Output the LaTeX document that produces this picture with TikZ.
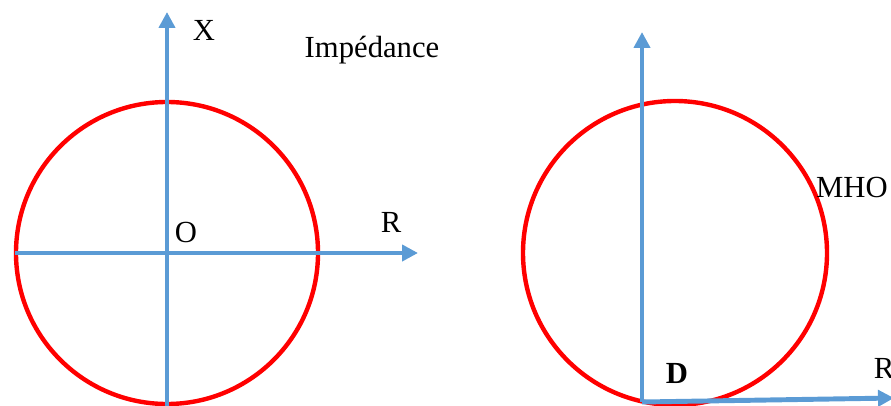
\documentclass[tikz,border=0pt]{standalone}
\usepackage{fontspec}
\setmainfont{Liberation Serif}
\usetikzlibrary{arrows.meta}
\definecolor{axisblue}{RGB}{91,155,213}

\begin{document}
\begin{tikzpicture}[x=0.75pt,y=-0.75pt,font=\fontsize{23}{23}\selectfont,
  axis/.style={axisblue,line width=3.7pt,-{Triangle[length=12pt,width=12pt]}},
  ring/.style={red,line width=3.3pt}]
\useasboundingbox (0,0) rectangle (891,406);
% impedance plane
\coordinate (O) at (167,253);
\coordinate (rstart) at (15,253);  \coordinate (rend) at (418,253);
\coordinate (xstart) at (167,408); \coordinate (xend) at (167,12);
\draw[ring] (O) circle[radius=151];
\draw[axis] (rstart)--(rend);
\draw[axis] (xstart)--(xend);
\node (xlab) at (204,30) {X};
\node (imp) at (372,50) {Impédance};
\node (olab) at (186,232) {O};
\node (rlab) at (391,222) {R};
% mho characteristic
\coordinate (C) at (675,253);
\coordinate (D) at (642,402);
\coordinate (dtop) at (642,32); \coordinate (dright) at (894,398);
\draw[ring] (C) circle[radius=152];
\draw[axis] (D)--(dtop);
\draw[axis] (D)--(dright);
\node (mho) at (852,187) {MHO};
\node[font=\fontsize{23}{23}\selectfont\bfseries] (dlab) at (677,373) {D};
\node (rlab2) at (884,368) {R};
\end{tikzpicture}
\end{document}
